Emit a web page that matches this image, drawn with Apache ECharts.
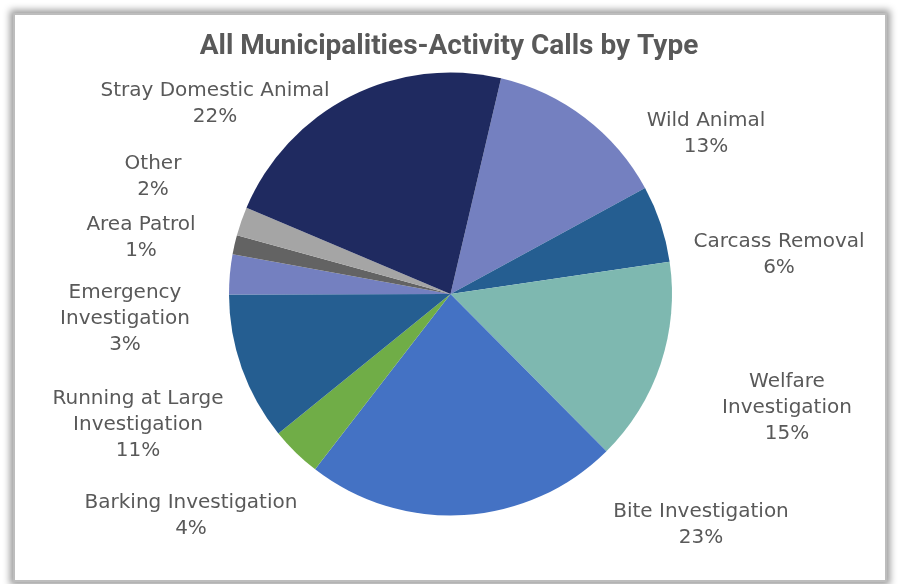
<!DOCTYPE html>
<html>
<head>
<meta charset="utf-8">
<script src="https://cdn.jsdelivr.net/npm/echarts@6/dist/echarts.min.js"></script>
<style>
html,body{margin:0;padding:0;background:#ffffff;}
#frame{position:absolute;left:13px;top:13px;width:870px;height:565px;border:2px solid #bdbdbd;box-shadow:0 0 7px 3px #9a9a9a;background:#fff;}
#chart{position:absolute;left:0;top:0;width:898px;height:584px;}
</style>
</head>
<body>
<div id="frame"></div>
<div id="chart"></div>
<script>
var categories = ['Wild Animal','Carcass Removal','Welfare\nInvestigation','Bite Investigation','Barking Investigation','Running at Large\nInvestigation','Emergency\nInvestigation','Area Patrol','Other','Stray Domestic Animal'];
var values = [13.4, 5.6, 14.9, 22.9, 3.7, 10.8, 2.9, 1.4, 2.1, 22.3];
var colors = ['#7480C0','#255E91','#7EB8B0','#4472C4','#70AD47','#255E91','#7480C0','#636363','#A5A5A5','#1F2A60'];
var labelPos = [[706,134],[779,255],[787,408],[701,525],[191,516],[138,425],[125,319],[141,238],[153,177],[215,104]];

var chart = echarts.init(document.getElementById('chart'));
var data = categories.map(function(c,i){return {name:c, value:values[i], itemStyle:{color:colors[i]}};});
chart.setOption({
  animation:false,
  title:{text:'All Municipalities-Activity Calls by Type', left:'center', top:28,
    textStyle:{fontFamily:'Roboto', fontWeight:'bold', fontSize:28, color:'#595959'}},
  series:[{
    type:'pie', center:[450.5,294], radius:221.5, startAngle:76.8, clockwise:true,
    data:data,
    itemStyle:{borderWidth:0},
    label:{show:true, position:'outside', fontFamily:'DejaVu Sans', fontSize:20, lineHeight:26, color:'#595959', align:'center',
      formatter:function(p){return p.name + '\n' + Math.round(p.percent) + '%';}},
    labelLine:{show:false},
    labelLayout:function(p){var q=labelPos[p.dataIndex];return {x:q[0], y:q[1], align:'center', verticalAlign:'middle'};}
  }]
});
</script>
</body>
</html>
